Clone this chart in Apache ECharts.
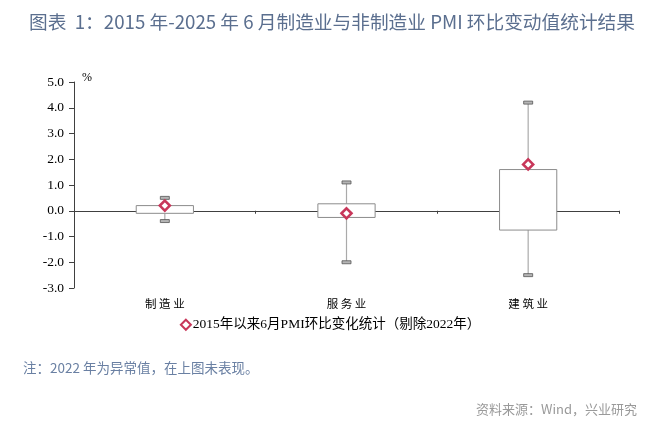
<!DOCTYPE html>
<html>
<head>
<meta charset="utf-8">
<script src="https://cdn.jsdelivr.net/npm/echarts@6/dist/echarts.min.js"></script>
<style>
  html, body { margin: 0; padding: 0; background: #fff; }
  #main { width: 660px; height: 434px; }
</style>
</head>
<body>
<div id="main"></div>
<script>
const categories = ['制 造 业', '服 务 业', '建 筑 业'];
const lowValues = [-0.4, -2.0, -2.5];
const q1Values = [-0.1, -0.26, -0.75];
const q3Values = [0.2, 0.27, 1.6];
const highValues = [0.5, 1.1, 4.2];
const meanValues = [0.2, -0.1, 1.8];
const yTicks = [-3, -2, -1, 0, 1, 2, 3, 4, 5];

const legendName = '2015年以来6月PMI环比变化统计（剔除2022年）';
const serif = "'Liberation Serif', 'Times New Roman', 'Noto Sans CJK SC', serif";
const sans = "'Noto Sans CJK SC', 'Noto Sans', sans-serif";

const dom = document.getElementById('main');
const myChart = echarts.init(dom);

const boxData = categories.map((_, i) => [i, lowValues[i], q1Values[i], q3Values[i], highValues[i]]);
const meanData = categories.map((_, i) => [i, meanValues[i]]);

const renderBox = (params, api) => {
  const idx = api.value(0);
  const low = api.coord([idx, api.value(1)]);
  const q1 = api.coord([idx, api.value(2)]);
  const q3 = api.coord([idx, api.value(3)]);
  const high = api.coord([idx, api.value(4)]);
  const boxW = api.size([1, 0])[0] * 0.315;
  const capW = 9;
  const capH = 3;
  const x = low[0];
  const whisker = { stroke: '#aaaaaa', lineWidth: 1.2 };
  const cap = { fill: '#b5b5b5', stroke: '#555555', lineWidth: 0.8 };
  return {
    type: 'group',
    children: [
      { type: 'line', shape: { x1: x, y1: high[1], x2: x, y2: q3[1] }, style: whisker },
      { type: 'line', shape: { x1: x, y1: q1[1], x2: x, y2: low[1] }, style: whisker },
      { type: 'rect', shape: { x: x - boxW / 2, y: q3[1], width: boxW, height: q1[1] - q3[1] },
        style: { fill: '#ffffff', stroke: '#8c8c8c', lineWidth: 1 } },
      { type: 'rect', shape: { x: x - capW / 2, y: high[1] - capH / 2, width: capW, height: capH }, style: cap },
      { type: 'rect', shape: { x: x - capW / 2, y: low[1] - capH / 2, width: capW, height: capH }, style: cap }
    ]
  };
};

const option = {
  animation: false,
  backgroundColor: '#ffffff',
  title: [
    {
      text: '图表  1：2015 年-2025 年 6 月制造业与非制造业 PMI 环比变动值统计结果',
      left: 24,
      top: 8,
      textStyle: { fontFamily: sans, fontSize: 18.7, fontWeight: 'normal', color: '#5b6f8f' }
    },
    {
      text: '注：2022 年为异常值，在上图未表现。',
      left: 18,
      top: 356,
      textStyle: { fontFamily: sans, fontSize: 13.5, fontWeight: 'normal', color: '#6a80a3' }
    },
    {
      text: '资料来源：Wind，兴业研究',
      right: 18,
      top: 398,
      textStyle: { fontFamily: sans, fontSize: 13, fontWeight: 'normal', color: '#9a9a9a' }
    }
  ],
  legend: {
    data: [{ name: legendName, icon: 'diamond' }],
    top: 313,
    left: 'center',
    itemWidth: 10,
    itemHeight: 10,
    itemGap: 4,
    textStyle: { fontFamily: serif, fontSize: 13.5, color: '#000000', padding: [0, 0, 0, -3] }
  },
  grid: { left: 74, right: 41, top: 82, bottom: 146 },
  xAxis: [
    {
      type: 'category',
      data: categories,
      position: 'bottom',
      axisLine: { show: false, onZero: false },
      axisTick: { show: false },
      axisLabel: { margin: 10, fontFamily: sans, fontSize: 11.5, color: '#000000' }
    },
    {
      type: 'category',
      data: categories,
      position: 'bottom',
      axisLine: { show: true, onZero: true, lineStyle: { color: '#404040', width: 1 } },
      axisTick: { show: true, length: 3, lineStyle: { color: '#404040' } },
      axisLabel: { show: false }
    }
  ],
  yAxis: {
    type: 'value',
    min: yTicks[0],
    max: yTicks[yTicks.length - 1],
    interval: 1,
    name: '%',
    nameLocation: 'end',
    nameGap: -2,
    nameTextStyle: { fontFamily: serif, fontSize: 12, color: '#000000', align: 'left', padding: [0, 0, 0, 8] },
    axisLine: { show: true, lineStyle: { color: '#404040', width: 1 } },
    axisTick: { show: true, length: 5, lineStyle: { color: '#404040' } },
    axisLabel: {
      margin: 10,
      fontFamily: serif,
      fontSize: 13.5,
      color: '#000000',
      formatter: (v) => v.toFixed(1)
    },
    splitLine: { show: false }
  },
  series: [
    {
      type: 'custom',
      name: 'box',
      xAxisIndex: 0,
      renderItem: renderBox,
      encode: { x: 0, y: [1, 2, 3, 4] },
      data: boxData,
      z: 2
    },
    {
      type: 'scatter',
      name: legendName,
      xAxisIndex: 0,
      symbol: 'diamond',
      symbolSize: 10,
      itemStyle: { color: '#ffffff', borderColor: '#c8375a', borderWidth: 2.6, opacity: 1 },
      data: meanData,
      z: 5
    }
  ]
};

myChart.setOption(option);

window.addEventListener('resize', myChart.resize);
</script>
</body>
</html>
